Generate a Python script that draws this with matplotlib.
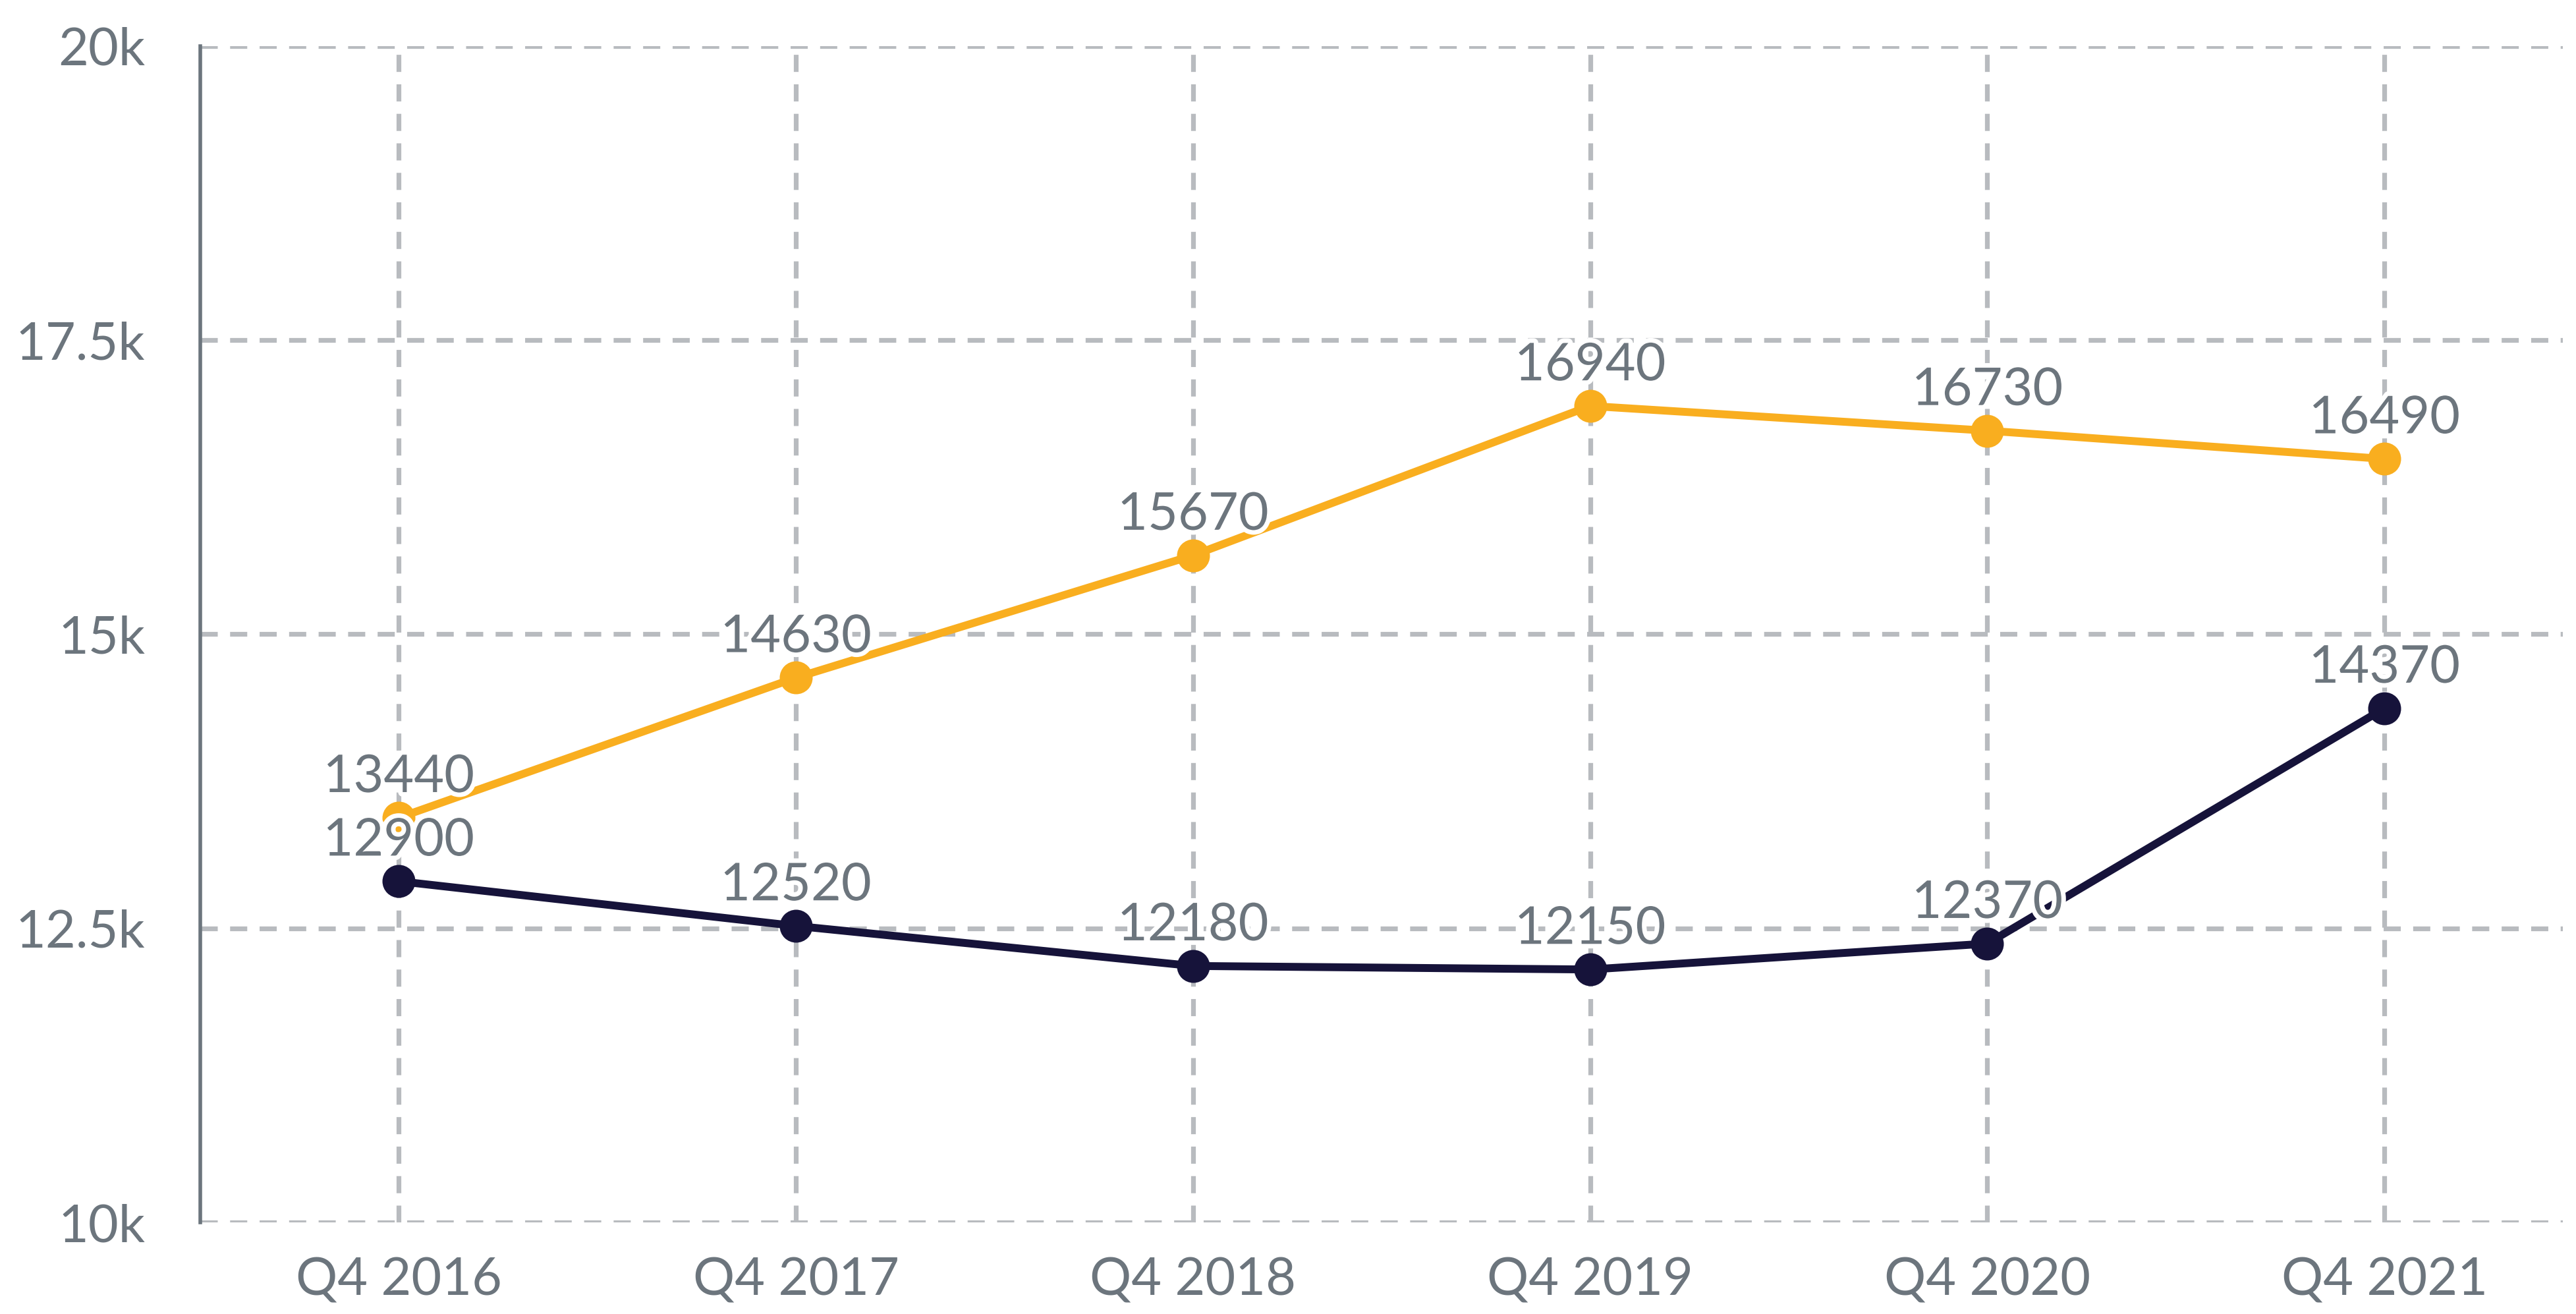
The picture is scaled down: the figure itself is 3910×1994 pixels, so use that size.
import matplotlib.pyplot as plt
import matplotlib.patheffects as pe

plt.rcParams['font.family'] = ['Lato', 'DejaVu Sans']

quarters = ["Q4 2016", "Q4 2017", "Q4 2018", "Q4 2019", "Q4 2020", "Q4 2021"]
gold_vals = [13440, 14630, 15670, 16940, 16730, 16490]
navy_vals = [12900, 12520, 12180, 12150, 12370, 14370]
yticks = [10000, 12500, 15000, 17500, 20000]
ylabels = ["10k", "12.5k", "15k", "17.5k", "20k"]

gold = "#f9ae1f"
navy = "#16133a"
txt = "#6c757d"
gridc = "#b8bbbf"

fig = plt.figure(figsize=(19.55, 9.97), dpi=200)
ax = fig.add_axes([0.0777, 0.0697, 0.9173, 0.8953])

x = list(range(len(quarters)))
ax.plot(x, gold_vals, color=gold, lw=4.3, marker="o", ms=17, zorder=3)
ax.plot(x, navy_vals, color=navy, lw=4.3, marker="o", ms=17, zorder=3)

stroke = [pe.withStroke(linewidth=5, foreground="white")]
for vals in (gold_vals, navy_vals):
    for i, v in enumerate(vals):
        ax.annotate(str(v), (i, v), xytext=(0, 14), textcoords="offset points",
                    ha="center", va="baseline", fontsize=28.5, color=txt,
                    path_effects=stroke, zorder=5)

ax.set_xlim(-0.5, 5.45)
ax.set_ylim(10000, 20000)
ax.set_xticks(x)
ax.set_xticklabels(quarters)
ax.set_yticks(yticks)
ax.set_yticklabels(ylabels)
ax.tick_params(axis="both", length=0, labelsize=28.5, labelcolor=txt)
ax.tick_params(axis="y", pad=30)
ax.tick_params(axis="x", pad=19)

ax.grid(True, color=gridc, lw=2.6, linestyle=(0, (3.6, 2.6)))
ax.set_axisbelow(True)
for s in ["top", "right", "bottom"]:
    ax.spines[s].set_visible(False)
ax.spines["left"].set_color(txt)
ax.spines["left"].set_linewidth(2)

fig.savefig("out.png", dpi=200, facecolor="white")
